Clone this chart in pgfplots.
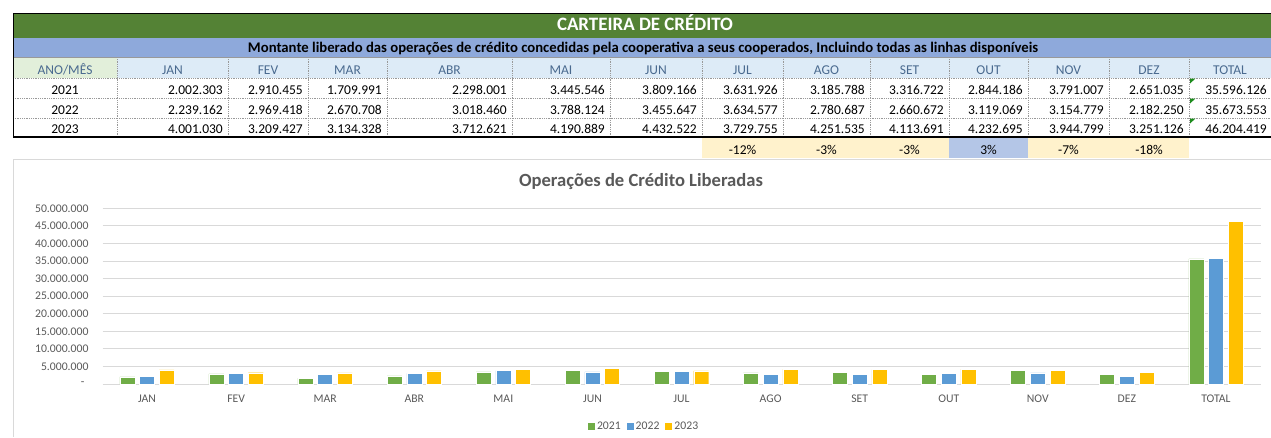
\documentclass[border=0pt]{standalone}
\usepackage{fontspec}
\setmainfont{Carlito}
\usepackage{pgfplots}
\pgfplotsset{compat=1.18}
\definecolor{titlegreen}{HTML}{548235}
\definecolor{subblue}{HTML}{8EA9DB}
\definecolor{hdrblue}{HTML}{DDEBF7}
\definecolor{hdrgreen}{HTML}{E2EFDA}
\definecolor{hdrtext}{HTML}{4A6A8F}
\definecolor{pctorange}{HTML}{FFF2CC}
\definecolor{pctblue}{HTML}{B4C6E7}
\definecolor{c21}{HTML}{70AD47}
\definecolor{c22}{HTML}{5B9BD5}
\definecolor{c23}{HTML}{FFC000}
\definecolor{txtgray}{HTML}{595959}
\definecolor{gridgray}{HTML}{D9D9D9}
\definecolor{errgreen}{HTML}{1E8C1E}
\begin{document}
\begin{tikzpicture}
\useasboundingbox (0pt,0pt) rectangle (1271pt,-437pt);
\begin{scope}[x=1pt,y=-1pt]
% title rows
\fill[titlegreen] (13,13) rectangle (1271,38);
\fill[subblue] (13,38) rectangle (1271,57);
\node[anchor=base,inner sep=0,text=white] at (645,30.7) {\resizebox{176pt}{!}{\fontsize{15.5}{18}\selectfont\bfseries CARTEIRA DE CRÉDITO}};
\node[anchor=base,inner sep=0,text=black] at (643,52.7) {\resizebox{790pt}{!}{\fontsize{12}{14}\selectfont\bfseries Montante liberado das operações de crédito concedidas pela cooperativa a seus cooperados, Incluindo todas as linhas disponíveis}};
% header fills
\fill[hdrgreen] (13,57) rectangle (117,78);
\fill[hdrblue] (117,57) rectangle (1271,78);
% grid lines
\draw[gray!80,line width=0.6pt] (13,57) -- (1271,57);
\foreach \yy in {78,98,118} \draw[gray!80,line width=0.7pt,dash pattern=on 1pt off 0.8pt] (13,\yy) -- (1271,\yy);
\foreach \xx in {117,228,308,387,512,610,702,783,870,949,1028,1109,1189} \draw[gray!80,line width=0.7pt,dash pattern=on 1pt off 0.8pt] (\xx,57) -- (\xx,137);
% borders
\draw[black,line width=1.6pt] (13,13.5) -- (1271,13.5);
\draw[black,line width=1.6pt] (13.5,13) -- (13.5,137.5);
\draw[black,line width=2pt] (13,137) -- (1271,137);
% header texts
\begin{scope}[every node/.style={inner sep=0,anchor=base,font=\fontsize{13.5}{16}\selectfont}]
\node[text=hdrtext] at (65,74) {ANO/MÊS};
\foreach \l/\r/\n in {117/228/JAN,228/308/FEV,308/387/MAR,387/512/ABR,512/610/MAI,610/702/JUN,702/783/JUL,783/870/AGO,870/949/SET,949/1028/OUT,1028/1109/NOV,1109/1189/DEZ,1189/1271/TOTAL}
  \node[text=hdrtext] at ({(\l+\r)/2},74) {\n};
\node at (65,94.3) {2021};
\node at (65,114.3) {2022};
\node at (65,133.5) {2023};
\end{scope}
\begin{scope}[every node/.style={inner sep=0,anchor=base east,font=\fontsize{13.5}{16}\selectfont}]
\foreach \r/\v in {228/2.002.303,308/2.910.455,387/1.709.991,512/2.298.001,610/3.445.546,702/3.809.166,783/3.631.926,870/3.185.788,949/3.316.722,1028/2.844.186,1109/3.791.007,1189/2.651.035,1272/35.596.126}
  \node at (\r-5,94.3) {\v};
\foreach \r/\v in {228/2.239.162,308/2.969.418,387/2.670.708,512/3.018.460,610/3.788.124,702/3.455.647,783/3.634.577,870/2.780.687,949/2.660.672,1028/3.119.069,1109/3.154.779,1189/2.182.250,1272/35.673.553}
  \node at (\r-5,114.3) {\v};
\foreach \r/\v in {228/4.001.030,308/3.209.427,387/3.134.328,512/3.712.621,610/4.190.889,702/4.432.522,783/3.729.755,870/4.251.535,949/4.113.691,1028/4.232.695,1109/3.944.799,1189/3.251.126,1272/46.204.419}
  \node at (\r-5,133.5) {\v};
\end{scope}
% error indicators
\foreach \yy in {78.5,98.5,118.5} \fill[errgreen] (1190,\yy) -- (1195.5,\yy) -- (1190,\yy+5) -- cycle;
% percent row
\fill[pctorange] (702,138) rectangle (949,158);
\fill[pctblue] (949,138) rectangle (1028,158);
\fill[pctorange] (1028,138) rectangle (1189,158);
\begin{scope}[every node/.style={inner sep=0,anchor=base,font=\fontsize{13.5}{16}\selectfont}]
\foreach \l/\r/\n in {702/783/-12\%,783/870/-3\%,870/949/-3\%,949/1028/3\%,1028/1109/-7\%,1109/1189/-18\%}
  \node at ({(\l+\r)/2},154) {\n};
\end{scope}
% chart area border
\draw[gridgray,line width=1pt] (13,159.5) -- (1271,159.5);
\draw[gridgray,line width=1pt] (13.5,159.5) -- (13.5,437);
% chart title
\node[anchor=base,inner sep=0,text=txtgray] at (641,186.7) {\resizebox{244pt}{!}{\fontsize{16.5}{19}\selectfont\bfseries Operações de Crédito Liberadas}};
\end{scope}
\begin{axis}[
  at={(102.5pt,-384pt)}, anchor=south west,
  scale only axis, width=1158pt, height=175.7pt,
  xmin=-0.5, xmax=12.5, ymin=0, ymax=50000000,
  enlargelimits=false,
  ybar=4.7pt, bar width=15pt,
  xtick={0,1,2,3,4,5,6,7,8,9,10,11,12},
  xticklabels={JAN,FEV,MAR,ABR,MAI,JUN,JUL,AGO,SET,OUT,NOV,DEZ,TOTAL},
  ytick={0,5000000,10000000,15000000,20000000,25000000,30000000,35000000,40000000,45000000,50000000},
  yticklabels={{-\kern4pt},5.000.000,10.000.000,15.000.000,20.000.000,25.000.000,30.000.000,35.000.000,40.000.000,45.000.000,50.000.000},
  scaled y ticks=false,
  tick label style={font=\fontsize{11.7}{14}\selectfont, text=txtgray},
  yticklabel style={xshift=-10.5pt},
  xticklabel style={yshift=-7.5pt},
  axis line style={draw=none},
  tick style={draw=none}, major tick length=0pt,
  ymajorgrids, grid style={gridgray, line width=1pt},
  legend style={at={(0.4677,-0.239)}, anchor=center, draw=none, fill=none,
    legend columns=3, font=\fontsize{11.7}{14}\selectfont, text=txtgray,
    /tikz/every even column/.append style={column sep=4pt}},
  legend image code/.code={\fill[#1,draw=none] (0pt,-3.5pt) rectangle (7pt,3.5pt);},
]
\addplot[fill=c21, draw=white, line width=0.4pt] coordinates {(0,2002303) (1,2910455) (2,1709991) (3,2298001) (4,3445546) (5,3809166) (6,3631926) (7,3185788) (8,3316722) (9,2844186) (10,3791007) (11,2651035) (12,35596126)};
\addplot[fill=c22, draw=white, line width=0.4pt] coordinates {(0,2239162) (1,2969418) (2,2670708) (3,3018460) (4,3788124) (5,3455647) (6,3634577) (7,2780687) (8,2660672) (9,3119069) (10,3154779) (11,2182250) (12,35673553)};
\addplot[fill=c23, draw=white, line width=0.4pt] coordinates {(0,4001030) (1,3209427) (2,3134328) (3,3712621) (4,4190889) (5,4432522) (6,3729755) (7,4251535) (8,4113691) (9,4232695) (10,3944799) (11,3251126) (12,46204419)};
\legend{2021,2022,2023}
\end{axis}
\end{tikzpicture}
\end{document}
